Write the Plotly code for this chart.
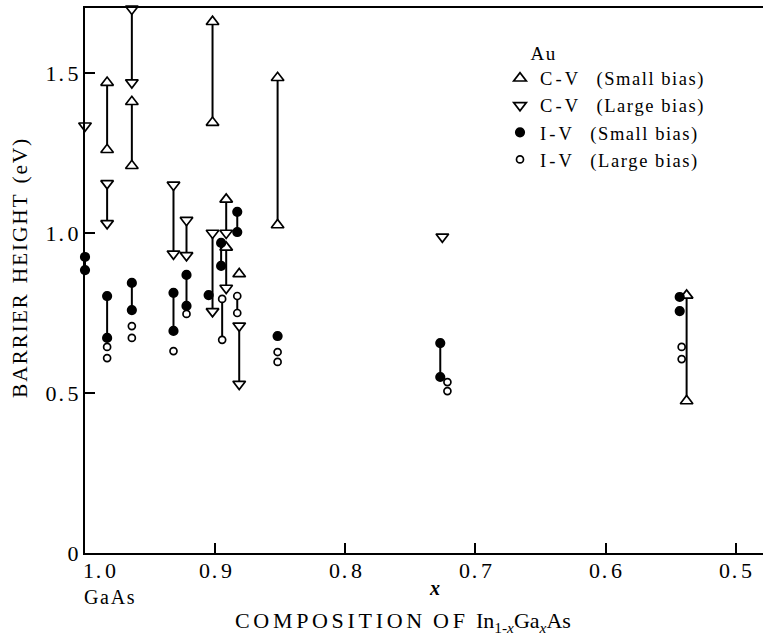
import plotly.graph_objects as go

FONT = "Liberation Serif"
HAIR = "\u200a"
EN = "\u2002"
EM = "\u2003"


def tracked(text, n=1):
    """Letter-space a string by putting hair spaces between its characters."""
    return (HAIR * n).join(text)


def decimal(text):
    """Tick label with the wide gap after the decimal point used in the figure."""
    return text.replace(".", HAIR + "." + HAIR * 2)


# Composition x of In(1-x)Ga(x)As and barrier heights (eV) of Au contacts.
# Points sharing a link id are joined by a vertical bar.
cv_small_x = [0.983, 0.983, 0.964, 0.964, 0.902, 0.902, 0.8915, 0.8915, 0.8815, 0.852, 0.852, 0.5377, 0.5377]
cv_small_y = [1.47, 1.26, 1.41, 1.21, 1.66, 1.345, 1.105, 0.955, 0.872, 1.485, 1.025, 0.805, 0.475]
cv_small_link = ["B1", "B1", "C1", "C1", "F1", "F1", "G1", "G2", "", "J1", "J1", "L1", "L1"]

cv_large_x = [1.0, 0.983, 0.983, 0.964, 0.964, 0.932, 0.932, 0.922, 0.922, 0.902, 0.902, 0.8915, 0.8915, 0.8815, 0.8815, 0.7254]
cv_large_y = [1.335, 1.155, 1.03, 1.70, 1.47, 1.15, 0.935, 1.04, 0.93, 1.00, 0.755, 1.00, 0.828, 0.71, 0.528, 0.988]
cv_large_link = ["", "B2", "B2", "C2", "C2", "D1", "D1", "E1", "E1", "F2", "F2", "G1", "G2", "I1", "I1", ""]

iv_small_x = [1.0, 1.0, 0.983, 0.983, 0.964, 0.964, 0.932, 0.932, 0.922, 0.922, 0.905, 0.8954, 0.8954, 0.883, 0.883, 0.852, 0.727, 0.727, 0.543, 0.543]
iv_small_y = [0.925, 0.884, 0.803, 0.672, 0.844, 0.759, 0.813, 0.694, 0.869, 0.772, 0.806, 0.969, 0.897, 1.066, 1.003, 0.678, 0.656, 0.55, 0.80, 0.756]
iv_small_link = ["A1", "A1", "B3", "B3", "C3", "C3", "D2", "D2", "E2", "E2", "", "G3", "G3", "H1", "H1", "", "K1", "K1", "", ""]

iv_large_x = [0.983, 0.983, 0.964, 0.964, 0.932, 0.922, 0.8946, 0.8946, 0.883, 0.883, 0.852, 0.852, 0.7215, 0.7215, 0.5415, 0.5415]
iv_large_y = [0.644, 0.609, 0.709, 0.672, 0.631, 0.747, 0.794, 0.666, 0.803, 0.75, 0.628, 0.597, 0.534, 0.506, 0.644, 0.606]
iv_large_link = ["", "", "", "", "", "", "G4", "G4", "H2", "H2", "", "", "", "", "", ""]

x_ticks = [1.0, 0.9, 0.8, 0.7, 0.6, 0.5]
x_tick_text = ["1.0", "0.9", "0.8", "0.7", "0.6", "0.5"]
y_ticks = [0, 0.5, 1.0, 1.5]
y_tick_text = ["0", "0.5", "1.0", "1.5"]

series = [
    (("C-V", "(Small bias)"), cv_small_x, cv_small_y, cv_small_link, "triangle-up", 11, "white"),
    (("C-V", "(Large bias)"), cv_large_x, cv_large_y, cv_large_link, "triangle-down", 11, "white"),
    (("I-V", "(Small bias)"), iv_small_x, iv_small_y, iv_small_link, "circle", 8.5, "black"),
    (("I-V", "(Large bias)"), iv_large_x, iv_large_y, iv_large_link, "circle", 7, "white"),
]

# Collect the points of every linked group, then draw one vertical bar per group.
groups = {}
for _, xs, ys, links, *_ in series:
    for xv, yv, key in zip(xs, ys, links):
        if key:
            groups.setdefault(key, []).append((xv, yv))

bar_x, bar_y = [], []
for pts in groups.values():
    xm = sum(p[0] for p in pts) / len(pts)
    bar_x += [xm, xm, None]
    bar_y += [min(p[1] for p in pts), max(p[1] for p in pts), None]

fig = go.Figure()
fig.add_trace(go.Scatter(x=bar_x, y=bar_y, mode="lines", line=dict(color="black", width=2),
                         showlegend=False, hoverinfo="skip", cliponaxis=False))

for (method, bias), xs, ys, _, symbol, size, fill in series:
    label = tracked(method, 2) + EM + tracked(bias, 1)
    fig.add_trace(go.Scatter(
        x=xs, y=ys, mode="markers", name=label, cliponaxis=False,
        marker=dict(symbol=symbol, size=size, color=fill,
                    line=dict(color="black", width=1.7)),
    ))

annotations = []
for v, t in zip(x_ticks, x_tick_text):
    annotations.append(dict(
        x=v, y=0, xref="x", yref="paper", text=decimal(t), showarrow=False,
        xanchor="left" if v == 1.0 else "center", yanchor="middle", yshift=-17,
        xshift=-4 if v == 1.0 else 0,
        font=dict(family=FONT, size=22, color="black"),
    ))
annotations += [
    dict(x=-0.004, y=0, xref="paper", yref="paper", text=tracked("GaAs"), showarrow=False,
         xanchor="left", yanchor="middle", yshift=-44, font=dict(family=FONT, size=20, color="black")),
    dict(x=(435 - 85) / 678, y=0, xref="paper", yref="paper", text="<b><i>x</i></b>", showarrow=False,
         xanchor="center", yanchor="middle", yshift=-35, font=dict(family=FONT, size=20, color="black")),
    dict(x=(403 - 85) / 678, y=0, xref="paper", yref="paper",
         text=tracked("COMPOSITION", 2) + EN + tracked("OF", 2) + EN
         + "In<sub>1-<i>x</i></sub>Ga<sub><i>x</i></sub>As",
         showarrow=False, xanchor="center", yanchor="middle", yshift=-69,
         font=dict(family=FONT, size=22, color="black")),
    dict(x=(20 - 85) / 678, y=(553 - 269) / 545, xref="paper", yref="paper",
         text=tracked("BARRIER", 1) + EN + tracked("HEIGHT", 1) + EN + tracked("(eV)", 1),
         showarrow=False, textangle=-90, xanchor="center", yanchor="middle",
         font=dict(family=FONT, size=21.5, color="black")),
]

fig.update_layout(
    width=763, height=638,
    margin=dict(l=85, r=0, t=8, b=85),
    paper_bgcolor="white", plot_bgcolor="white",
    font=dict(family=FONT, color="black"),
    showlegend=True,
    legend=dict(
        x=(500 - 85) / 678, xanchor="left", y=(553 - 35) / 545, yanchor="top",
        bgcolor="rgba(0,0,0,0)", font=dict(family=FONT, size=18.5, color="black"),
        title=dict(text=EM + EN + tracked("Au"), font=dict(family=FONT, size=19, color="black")),
        itemsizing="trace", tracegroupgap=0,
    ),
    xaxis=dict(
        range=[1.0, 0.479], tickvals=x_ticks, showticklabels=False,
        ticks="inside", ticklen=10, tickwidth=2, tickcolor="black",
        showline=True, linecolor="black", linewidth=2, mirror=True,
        showgrid=False, zeroline=False,
    ),
    yaxis=dict(
        range=[0, 1.703], tickvals=y_ticks, ticktext=[decimal(t) for t in y_tick_text],
        ticks="inside", ticklen=10, tickwidth=2, tickcolor="black",
        tickfont=dict(family=FONT, size=22, color="black"),
        showline=True, linecolor="black", linewidth=2, mirror=False,
        showgrid=False, zeroline=False,
    ),
    annotations=annotations,
)

fig.write_html("out.html")
